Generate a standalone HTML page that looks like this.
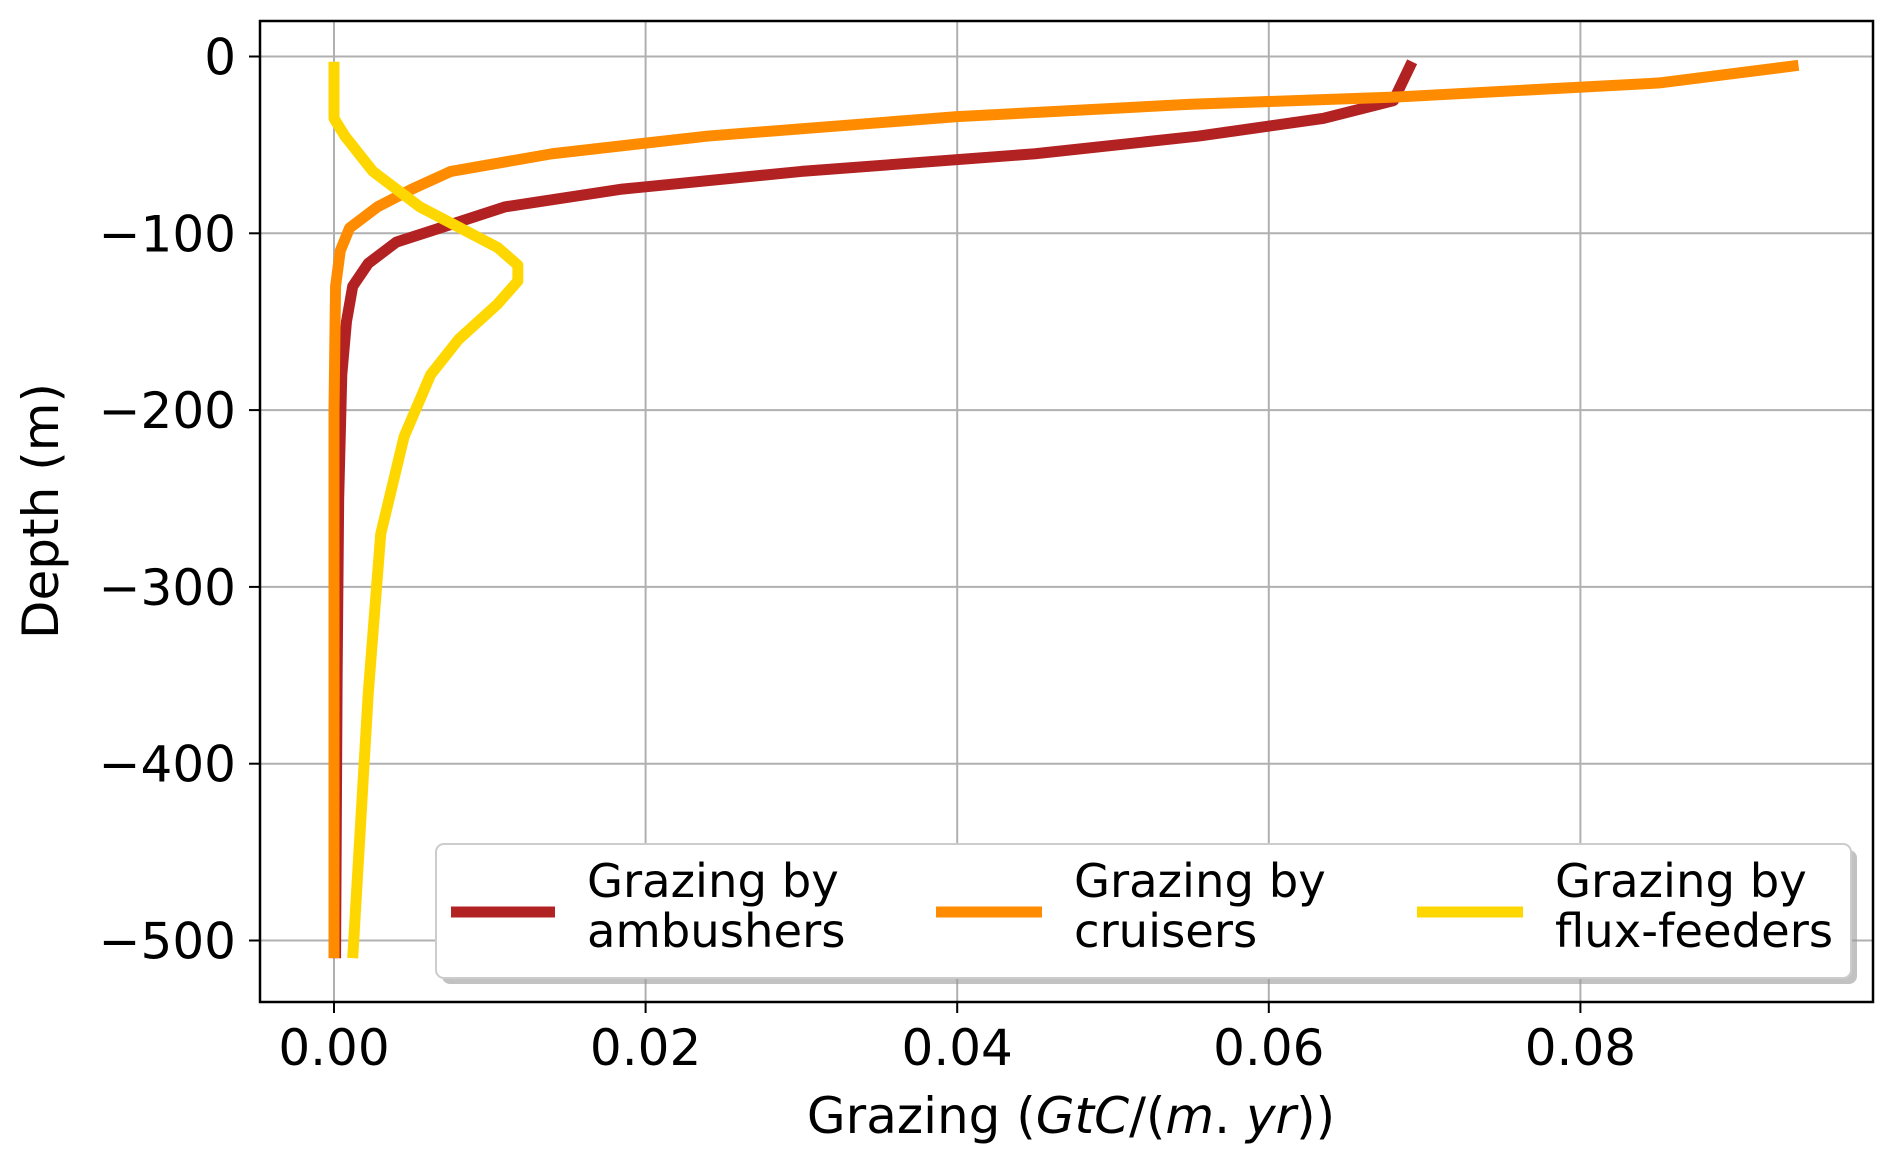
<!DOCTYPE html>
<html><head><meta charset="utf-8"><style>
html,body{margin:0;padding:0;background:#fff;}
svg text{font-family:"DejaVu Sans","Liberation Sans",sans-serif;fill:#000;}
</style></head><body>
<svg id="chart" width="1892" height="1165" viewBox="0 0 1892 1165" xmlns="http://www.w3.org/2000/svg">
<g id="grid"></g>
<g id="series"></g>
<rect x="260" y="21" width="1613" height="981" fill="none" stroke="#000" stroke-width="2.5"/>
<g id="ticks"></g>
<text x="1071" y="1133" font-size="50" text-anchor="middle">Grazing (<tspan font-style="italic">GtC</tspan>/(<tspan font-style="italic">m</tspan>. <tspan font-style="italic">yr</tspan>))</text>
<text transform="translate(58,511) rotate(-90)" font-size="50" text-anchor="middle">Depth (m)</text>
<g>
<rect x="442" y="850" width="1415" height="134" rx="8" fill="#999" opacity="0.6"/>
<rect x="436" y="844" width="1415" height="134" rx="8" fill="#fff" stroke="#ccc" stroke-width="2"/>
<g>
<line x1="451" y1="912" x2="555" y2="912" stroke="#b22222" stroke-width="11"/>
<text x="587" y="897" font-size="46.5">Grazing by</text><text x="587" y="947" font-size="46.5">ambushers</text></g>
<g>
<line x1="936" y1="912" x2="1042" y2="912" stroke="#ff8c00" stroke-width="11"/>
<text x="1074" y="897" font-size="46.5">Grazing by</text><text x="1074" y="947" font-size="46.5">cruisers</text></g>
<g>
<line x1="1417" y1="912" x2="1523" y2="912" stroke="#ffd700" stroke-width="11"/>
<text x="1555" y="897" font-size="46.5">Grazing by</text><text x="1555" y="947" font-size="46.5">flux-feeders</text></g>
</g>
</svg>
<script>
const xTicks=[0,0.02,0.04,0.06,0.08];
const xTickLabels=["0.00","0.02","0.04","0.06","0.08"];
const yTicks=[0,-100,-200,-300,-400,-500];
const yTickLabels=["0","\u2212100","\u2212200","\u2212300","\u2212400","\u2212500"];
const ambX=[0.0692,0.068,0.0635,0.0555,0.045,0.03,0.0185,0.011,0.0075,0.004,0.0022,0.0012,0.0008,0.0005,0.0003,0.0002,0.0001];
const ambD=[-3,-25,-35,-45,-55,-65,-75,-85,-95,-105,-117,-130,-150,-180,-250,-350,-510];
const cruX=[0.094,0.085,0.068,0.055,0.04,0.024,0.014,0.0075,0.005,0.0028,0.001,0.0004,0.0001,0,0];
const cruD=[-5,-15,-23,-27,-34,-45,-55,-65,-75,-85,-97,-110,-130,-200,-510];
const fluX=[0,0,0.0007,0.0025,0.0055,0.0105,0.0118,0.0118,0.0105,0.008,0.0062,0.0045,0.003,0.0022,0.0012];
const fluD=[-3,-35,-45,-65,-85,-108,-118,-127,-140,-160,-180,-215,-270,-360,-510];
const NS="http://www.w3.org/2000/svg";
function sx(v){return 334+v*15580;}
function sy(d){return 56.5-d*1.768;}
const grid=document.getElementById('grid'),ticks=document.getElementById('ticks'),ser=document.getElementById('series');
function mk(tag,attrs,parent){const e=document.createElementNS(NS,tag);for(const k in attrs)e.setAttribute(k,attrs[k]);parent.appendChild(e);return e;}
xTicks.forEach((v,i)=>{
 const g=mk('line',{x1:sx(v),x2:sx(v),y1:21,y2:1002,stroke:'#b0b0b0','stroke-width':2},grid);
 
 
 const t=mk('line',{x1:sx(v),x2:sx(v),y1:1002,y2:1013,stroke:'#000','stroke-width':2},ticks);
 
 
 const l=mk('text',{x:sx(v),y:1065,'font-size':50,'text-anchor':'middle'},ticks);l.textContent=xTickLabels[i];
 
 
});
yTicks.forEach((v,i)=>{
 const g=mk('line',{x1:260,x2:1873,y1:sy(v),y2:sy(v),stroke:'#b0b0b0','stroke-width':2},grid);
 
 
 const t=mk('line',{x1:249,x2:260,y1:sy(v),y2:sy(v),stroke:'#000','stroke-width':2},ticks);
 
 
 const l=mk('text',{x:236,y:sy(v)+18,'font-size':50,'text-anchor':'end'},ticks);l.textContent=yTickLabels[i];
 
 
});
function line(xs,ds,color,name){
 const p=mk('polyline',{points:xs.map((v,i)=>sx(v)+','+sy(ds[i])).join(' '),fill:'none',stroke:color,'stroke-width':11,'stroke-linejoin':'round'},ser);
 
 
}
line(ambX,ambD,'#b22222','line-ambushers');
line(cruX,cruD,'#ff8c00','line-cruisers');
line(fluX,fluD,'#ffd700','line-flux-feeders');
</script>
</body></html>
